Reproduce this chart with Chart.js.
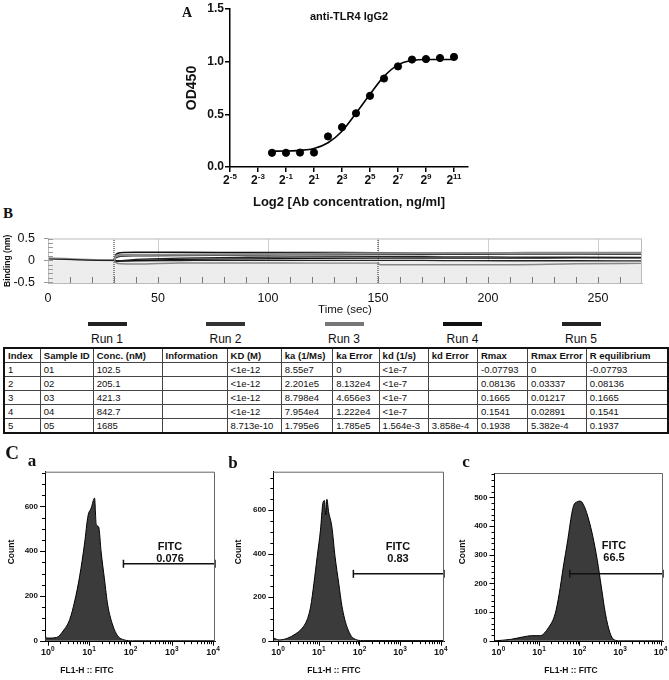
<!DOCTYPE html>
<html><head><meta charset="utf-8"><title>anti-TLR4 IgG2</title>
<script src="https://cdn.jsdelivr.net/npm/chart.js@4.4.1/dist/chart.umd.min.js"></script>
<style>
html,body{margin:0;padding:0;background:#fff}
body{position:relative;width:669px;height:680px;overflow:hidden;font-family:"Liberation Sans",Arial,sans-serif;color:#111}
canvas{position:absolute}
.t{position:absolute;transform:translate(-50%,-50%);white-space:nowrap;line-height:1}
.serif{font-family:"Liberation Serif","Times New Roman",serif;font-weight:bold}
.rot{transform:translate(-50%,-50%) rotate(-90deg)}
.bar{position:absolute;height:4px;width:39px;top:322px}
.fitc{font-weight:bold;font-size:11px;text-align:center;line-height:1.05}
.ax{font-weight:bold;font-size:8.5px}
table{position:absolute;left:3px;top:347px;border-collapse:collapse;border:2px solid #111;font-size:9.5px;table-layout:fixed}
td{border:1px solid #444;height:13px;padding:0 3px;line-height:13px;white-space:nowrap;overflow:hidden}
tr:first-child td{font-weight:bold}
</style></head><body>
<canvas id="cA"></canvas>
<canvas id="cB"></canvas>
<canvas id="ca"></canvas>
<canvas id="cb"></canvas>
<canvas id="cc"></canvas>

<div class="t serif" style="left:187px;top:13px;font-size:14px">A</div>
<div class="t" style="left:349px;top:16px;font-size:11px;font-weight:bold">anti-TLR4 IgG2</div>
<div class="t serif" style="left:8px;top:213px;font-size:15px">B</div>

<div id="runs"></div>
<table id="tbl"></table>

<div class="t serif" style="left:12px;top:452px;font-size:19px">C</div>
<div class="t serif" style="left:32px;top:460px;font-size:17px">a</div>
<div class="t serif" style="left:233px;top:462px;font-size:17px">b</div>
<div class="t serif" style="left:466px;top:461px;font-size:17px">c</div>

<div class="t ax rot" style="left:11px;top:552px">Count</div>
<div class="t ax rot" style="left:238px;top:552px">Count</div>
<div class="t ax rot" style="left:462px;top:552px">Count</div>
<div class="t ax" style="left:87px;top:670px">FL1-H :: FITC</div>
<div class="t ax" style="left:334px;top:670px">FL1-H :: FITC</div>
<div class="t ax" style="left:571px;top:670px">FL1-H :: FITC</div>

<div class="t fitc" style="left:170px;top:553px">FITC<br>0.076</div>
<div class="t fitc" style="left:398px;top:553px">FITC<br>0.83</div>
<div class="t fitc" style="left:614px;top:552px">FITC<br>66.5</div>

<script>
// ---- A: ELISA titration ----
const log2Conc = [-2, -1, 0, 1, 2, 3, 4, 5, 6, 7, 8, 9, 10, 11];
const od450 = [0.135, 0.135, 0.137, 0.137, 0.29, 0.378, 0.51, 0.676, 0.84, 0.955, 1.02, 1.025, 1.035, 1.045];
const fitY = [0.15, 0.152, 0.158, 0.175, 0.23, 0.34, 0.51, 0.69, 0.86, 0.97, 1.01, 1.02, 1.02, 1.02];
const log2Ticks = [-5, -3, -1, 1, 3, 5, 7, 9, 11];
const odTicks = [0, 0.5, 1, 1.5];

// ---- B: sensorgram ----
const timeTicks = [0, 50, 100, 150, 200, 250];
const bindTicks = [-0.5, 0, 0.5];
const stepTimes = [30, 150];
const baseTimes = [0, 8, 15, 22, 30];
const baseBlack = [0.03, 0.02, 0.01, 0.0, 0.0];
const baseGray = [0.05, 0.035, 0.02, 0.01, 0.0];
const runTimes = [30, 31, 33, 40, 60, 90, 120, 150, 151, 180, 210, 240, 270];
const traceTop = [0, 0.14, 0.175, 0.183, 0.182, 0.18, 0.178, 0.175, 0.175, 0.17, 0.165, 0.16, 0.158];
const traceGray = [0, 0.1, 0.12, 0.125, 0.13, 0.14, 0.15, 0.16, 0.16, 0.165, 0.168, 0.17, 0.17];
const traceMid = [0, 0.06, 0.09, 0.1, 0.11, 0.12, 0.125, 0.13, 0.13, 0.135, 0.14, 0.14, 0.14];
const traceLow1 = [0, -0.02, -0.01, 0.02, 0.05, 0.07, 0.08, 0.085, 0.085, 0.08, 0.075, 0.07, 0.065];
const traceLow2 = [0, -0.03, -0.02, 0.0, 0.02, 0.035, 0.045, 0.05, 0.05, 0.05, 0.05, 0.055, 0.055];
const traceZero = [0, -0.01, -0.01, -0.01, -0.005, 0, 0, 0, 0, -0.005, -0.01, -0.01, -0.012];
const traceNeg = [0, -0.06, -0.08, -0.085, -0.06, -0.06, -0.065, -0.065, -0.1, -0.1, -0.1, -0.08, -0.07];
const runNames = ['Run 1', 'Run 2', 'Run 3', 'Run 4', 'Run 5'];
const runColors = ['#222', '#333', '#777', '#111', '#222'];

// ---- B: kinetics table ----
const tableHead = ['Index', 'Sample ID', 'Conc. (nM)', 'Information', 'KD (M)', 'ka (1/Ms)', 'ka Error', 'kd (1/s)', 'kd Error', 'Rmax', 'Rmax Error', 'R equilibrium'];
const tableRows = [
  ['1', '01', '102.5', '', '<1e-12', '8.55e7', '0', '<1e-7', '', '-0.07793', '0', '-0.07793'],
  ['2', '02', '205.1', '', '<1e-12', '2.201e5', '8.132e4', '<1e-7', '', '0.08136', '0.03337', '0.08136'],
  ['3', '03', '421.3', '', '<1e-12', '8.798e4', '4.656e3', '<1e-7', '', '0.1665', '0.01217', '0.1665'],
  ['4', '04', '842.7', '', '<1e-12', '7.954e4', '1.222e4', '<1e-7', '', '0.1541', '0.02891', '0.1541'],
  ['5', '05', '1685', '', '8.713e-10', '1.795e6', '1.785e5', '1.564e-3', '3.858e-4', '0.1938', '5.382e-4', '0.1937']
];
const colWidths = [37, 47, 71, 66, 55, 52, 47, 50, 50, 51, 53, 84];

// ---- C: flow cytometry histograms ----
const flA = [0.85, 0.89, 1.0, 1.62, 2.34, 3.39, 4.47, 5.89, 7.76, 9.33, 11.2, 13.5, 14.8, 17.0, 19.5, 23.4, 28.2, 37.2, 49.0, 70.8, 112, 11200];
const countA = [52, 15, 12, 15, 44, 96, 178, 289, 437, 556, 593, 637, 520, 508, 396, 277, 159, 70, 22, 4, 0, 0];
const flB = [0.79, 1.05, 1.70, 2.69, 3.89, 5.13, 6.31, 7.59, 9.12, 11.0, 12.6, 13.8, 14.8, 15.8, 17.4, 20.9, 25.1, 30.9, 37.2, 49.0, 70.8, 123, 12000];
const countB = [11, 3, 11, 31, 57, 95, 157, 264, 386, 509, 632, 644, 578, 650, 594, 525, 386, 264, 157, 65, 11, 0, 0];
const flC = [0.8, 2.0, 4.17, 6.61, 10.7, 17.4, 25.1, 31.6, 39.8, 51.3, 64.6, 72.4, 89.1, 105, 132, 170, 214, 275, 347, 437, 562, 708, 1000, 11500];
const countC = [0, 5, 14, 18, 18, 47, 94, 164, 257, 351, 444, 473, 485, 487, 468, 421, 363, 281, 187, 94, 29, 4, 0, 0];
const gateStart = [67.6, 70.8, 57.5];
const gateLevel = [344, 307, 234];
const decades = [1, 10, 100, 1000, 10000];

const FONT = '"Liberation Sans", Arial, sans-serif';
const base = { responsive: false, animation: false, devicePixelRatio: 1, events: [],
  plugins: { legend: { display: false }, tooltip: { enabled: false } } };

function place(id, l, t, w, h) {
  const c = document.getElementById(id);
  c.width = w; c.height = h; c.style.left = l + 'px'; c.style.top = t + 'px';
  return c;
}
function supText(ctx, x, y, b, e, fb, fe, rise) {
  ctx.font = fb; const wb = ctx.measureText(b).width;
  ctx.font = fe; const we = ctx.measureText(e).width;
  const x0 = x - (wb + we) / 2;
  ctx.textAlign = 'left'; ctx.textBaseline = 'alphabetic'; ctx.fillStyle = '#111';
  ctx.font = fb; ctx.fillText(b, x0, y);
  ctx.font = fe; ctx.fillText(e, x0 + wb, y - rise);
}

// ---------- A ----------
new Chart(place('cA', 140, 0, 340, 215), {
  data: { datasets: [
    { type: 'line', data: log2Conc.map((x, i) => ({ x, y: fitY[i] })), borderColor: '#000', borderWidth: 1.6,
      pointRadius: 0, cubicInterpolationMode: 'monotone', fill: false },
    { type: 'scatter', data: log2Conc.map((x, i) => ({ x, y: od450[i] })), pointRadius: 3.6,
      backgroundColor: '#000', borderColor: '#000' }
  ] },
  options: { ...base,
    layout: { padding: { left: 0, top: 9, right: 12, bottom: 0 } },
    scales: {
      x: { type: 'linear', min: -5, max: 12,
        afterBuildTicks: s => { s.ticks = log2Ticks.map(v => ({ value: v })); },
        afterFit: s => { s.height = 48; },
        ticks: { display: false },
        grid: { display: true, drawOnChartArea: false, drawTicks: true, tickLength: 5, color: '#000', lineWidth: 1.5 },
        border: { display: true, color: '#000', width: 1.5 },
        title: { display: true, text: 'Log2 [Ab concentration, ng/ml]', color: '#111',
          font: { family: FONT, size: 13, weight: 'bold' }, padding: { top: 0, bottom: 5 } } },
      y: { min: 0, max: 1.5,
        afterBuildTicks: s => { s.ticks = odTicks.map(v => ({ value: v })); },
        afterFit: s => { s.width = 90; },
        ticks: { color: '#111', padding: 1, font: { family: FONT, size: 12, weight: 'bold' }, callback: v => v.toFixed(1) },
        grid: { display: true, drawOnChartArea: false, drawTicks: true, tickLength: 5, color: '#000', lineWidth: 1.5 },
        border: { display: true, color: '#000', width: 1.5 },
        title: { display: true, text: 'OD450', color: '#111', font: { family: FONT, size: 14, weight: 'bold' }, padding: { top: 44 } } }
    } },
  plugins: [{ id: 'pow2', afterDraw(ch) {
    const sx = ch.scales.x, ctx = ch.ctx;
    log2Ticks.forEach(v => supText(ctx, sx.getPixelForValue(v), 183.5, '2', String(v),
      'bold 12px ' + FONT, 'bold 8px ' + FONT, 5));
  } }]
});

// ---------- B sensorgram ----------
const bDatasets = [
  { data: [{ x: 0, y: 0 }, { x: 270, y: 0 }], fill: 'start', backgroundColor: '#ededed', borderWidth: 0, pointRadius: 0, order: 10 },
  ...stepTimes.map(t => ({ data: [{ x: t, y: -0.52 }, { x: t, y: 0.5 }], borderColor: '#222', borderWidth: 1, borderDash: [1, 1], pointRadius: 0, order: 1 })),
  { data: baseTimes.map((x, i) => ({ x, y: baseGray[i] })), borderColor: '#999', borderWidth: 2, pointRadius: 0, order: 2 },
  { data: baseTimes.map((x, i) => ({ x, y: baseBlack[i] })), borderColor: '#222', borderWidth: 1.2, pointRadius: 0, order: 0 }
];
[[traceGray, '#8a8a8a', 2.2], [traceNeg, '#888', 1.4], [traceTop, '#111', 1.5], [traceMid, '#222', 1.3],
 [traceLow1, '#222', 1.3], [traceLow2, '#111', 1.3], [traceZero, '#222', 1.3]].forEach(([vals, c, w]) => {
  bDatasets.push({ data: runTimes.map((x, i) => ({ x, y: vals[i] })), borderColor: c, borderWidth: w,
    pointRadius: 0, cubicInterpolationMode: 'monotone', order: 0 });
});
new Chart(place('cB', 0, 222, 669, 100), {
  type: 'line',
  data: { datasets: bDatasets },
  options: { ...base,
    layout: { padding: { left: 0, top: 13, right: 27, bottom: 0 } },
    scales: {
      x: { type: 'linear', min: 0, max: 270,
        afterBuildTicks: s => { s.ticks = timeTicks.map(v => ({ value: v })); },
        afterFit: s => { s.height = 39; },
        ticks: { color: '#111', padding: 8, font: { family: FONT, size: 12.5 } },
        grid: { display: true, drawTicks: false, color: c => c.tick && c.tick.value === 0 ? 'rgba(0,0,0,0)' : '#cfcfcf' },
        border: { display: true, color: '#bbb' },
        title: { display: true, text: 'Time (sec)', color: '#111', font: { family: FONT, size: 11.5 }, padding: { top: 0, bottom: 5 } } },
      y: { min: -0.52, max: 0.5,
        afterBuildTicks: s => { s.ticks = bindTicks.map(v => ({ value: v })); },
        afterFit: s => { s.width = 48; },
        ticks: { color: '#111', padding: 9, font: { family: FONT, size: 12.5 }, callback: v => String(v) },
        grid: { display: true, drawOnChartArea: false, drawTicks: true, tickLength: 4, color: '#999' },
        border: { display: true, color: '#bbb' },
        title: { display: true, text: 'Binding (nm)', color: '#111', font: { family: FONT, size: 8.5, weight: 'bold' }, padding: { top: 3 } } }
    } },
  plugins: [{ id: 'sensorFrame', afterDraw(ch) {
    const { ctx, chartArea: a, scales: { x, y } } = ch;
    ctx.save();
    ctx.strokeStyle = '#bbb'; ctx.lineWidth = 1;
    ctx.strokeRect(a.left + 0.5, a.top + 0.5, a.right - a.left - 1, a.bottom - a.top);
    ctx.strokeStyle = '#999';
    for (let v = -5; v <= 5; v++) {
      const py = Math.round(y.getPixelForValue(v / 10)) + 0.5;
      ctx.beginPath(); ctx.moveTo(a.left, py); ctx.lineTo(a.left + 5, py); ctx.stroke();
    }
    ctx.strokeStyle = '#777';
    for (let t = 10; t < 270; t += 10) {
      const px = Math.round(x.getPixelForValue(t)) + 0.5;
      ctx.beginPath(); ctx.moveTo(px, a.bottom); ctx.lineTo(px, a.bottom - 6); ctx.stroke();
    }
    ctx.restore();
  } }]
});

// run legend
const runsEl = document.getElementById('runs');
runsEl.innerHTML = runNames.map((n, i) => {
  const cx = 107 + i * 118.5;
  return `<div class="bar" style="left:${cx - 19.5}px;background:${runColors[i]}"></div>` +
    `<div class="t" style="left:${cx}px;top:339px;font-size:12px">${n}</div>`;
}).join('');

// table
document.getElementById('tbl').innerHTML =
  '<colgroup>' + colWidths.map(w => `<col style="width:${w}px">`).join('') + '</colgroup>' +
  [tableHead, ...tableRows].map(r => '<tr>' + r.map(c => `<td>${c.replace('<', '&lt;')}</td>`).join('') + '</tr>').join('');

// ---------- C histograms ----------
function histo(id, l, t, w, h, area, xr, yr, yMajor, yMinorStep, fl, counts, k) {
  const xMin = xr[0], xMax = xr[1];
  new Chart(place(id, l, t, w, h), {
    type: 'line',
    data: { datasets: [
      { data: fl.map((x, i) => ({ x, y: counts[i] })), fill: 'origin', backgroundColor: '#3b3b3b', borderColor: '#000',
        borderWidth: 1, pointRadius: 0, cubicInterpolationMode: 'monotone', order: 1 },
      { data: [{ x: gateStart[k], y: gateLevel[k] }, { x: xMax, y: gateLevel[k] }], borderColor: '#111', borderWidth: 1.5,
        pointStyle: 'line', rotation: 90, pointRadius: 4, pointBorderWidth: 1.5, pointBorderColor: '#111', clip: false, order: 0 }
    ] },
    options: { ...base,
      layout: { padding: { left: 0, top: area[1], right: w - area[2], bottom: 0 } },
      scales: {
        x: { type: 'logarithmic', min: xMin, max: xMax, afterFit: s => { s.height = h - area[3]; },
          ticks: { display: false }, grid: { display: false }, border: { display: true, color: '#000', width: 1 } },
        y: { min: yr[0], max: yr[1], afterFit: s => { s.width = area[0]; },
          ticks: { display: false }, grid: { display: false }, border: { display: true, color: '#000', width: 1 } }
      } },
    plugins: [{ id: 'flowAxes', afterDraw(ch) {
      const { ctx, chartArea: a, scales: { x, y } } = ch;
      ctx.save();
      ctx.strokeStyle = '#666'; ctx.lineWidth = 1;
      ctx.beginPath(); ctx.moveTo(a.left, a.top + 0.5); ctx.lineTo(a.right - 0.5, a.top + 0.5); ctx.lineTo(a.right - 0.5, a.bottom); ctx.stroke();
      ctx.strokeStyle = '#000';
      for (let v = 0; v <= yr[1]; v += yMinorStep) {
        const py = Math.round(y.getPixelForValue(v)) + 0.5, major = yMajor.includes(v);
        ctx.beginPath(); ctx.moveTo(a.left, py); ctx.lineTo(a.left - (major ? 5 : 3), py); ctx.stroke();
      }
      ctx.fillStyle = '#111'; ctx.font = 'bold 8px ' + FONT; ctx.textAlign = 'right'; ctx.textBaseline = 'middle';
      yMajor.forEach(v => ctx.fillText(String(v), a.left - 7, y.getPixelForValue(v)));
      decades.forEach((d, di) => {
        for (let m = 1; m <= 9; m++) {
          const v = d * m;
          if (v < xMin || v > xMax) continue;
          const px = Math.round(x.getPixelForValue(v)) + 0.5;
          ctx.beginPath(); ctx.moveTo(px, a.bottom); ctx.lineTo(px, a.bottom + (m === 1 ? 4 : 2.5)); ctx.stroke();
        }
        supText(ctx, x.getPixelForValue(d), a.bottom + 13, '10', String(di), 'bold 9px ' + FONT, 'bold 6.5px ' + FONT, 4);
      });
      ctx.restore();
    } }]
  });
}
histo('ca', 0, 462, 225, 218, [45, 9.7, 215, 179.7], [0.85, 11200], [-4, 755], [0, 200, 400, 600], 50, flA, countA, 0);
histo('cb', 225, 462, 225, 218, [48.3, 9.7, 219, 179.7], [0.76, 12000], [-5, 777], [0, 200, 400, 600], 50, flB, countB, 1);
histo('cc', 450, 462, 219, 218, [44.5, 11, 213, 179.7], [0.8, 11500], [-3, 585], [0, 100, 200, 300, 400, 500], 20, flC, countC, 2);
</script>
</body></html>
